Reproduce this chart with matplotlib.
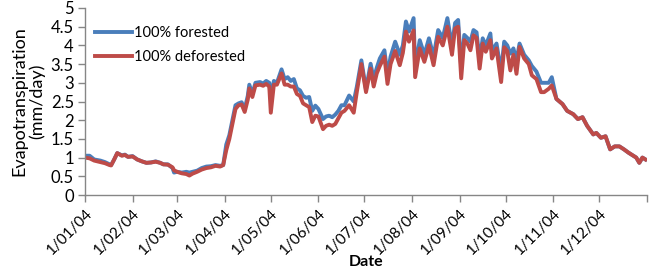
import matplotlib
matplotlib.use("Agg")
import matplotlib.pyplot as plt
import matplotlib.dates as mdates
import numpy as np
import datetime as dt

# day offsets from 1 Jan 2004
days = [0, 3, 6, 10, 13, 16, 17, 19, 21, 24, 26, 28, 31, 34, 37, 40, 43, 46, 49, 51,
        54, 57, 58, 60, 63, 66, 68, 70, 73, 76, 79, 82, 85, 88, 90, 92, 94, 96, 98, 100,
        102, 104, 106, 107, 109, 111, 114, 116, 118, 120, 121, 123, 125, 128, 130, 132, 134, 136, 138, 140,
        142, 144, 146, 148, 150, 152, 155, 157, 159, 161, 163, 165, 167, 169, 172, 175, 177, 180, 183, 186,
        188, 190, 192, 195, 197, 199, 202, 205, 207, 209, 211, 214, 215, 218, 221, 224, 227, 230, 233, 236,
        239, 241, 243, 245, 247, 249, 251, 253, 255, 257, 259, 261, 264, 265, 268, 271, 273, 275, 277, 279,
        281, 283, 286, 289, 291, 294, 297, 299, 302, 304, 307, 311, 314, 318, 321, 324, 327, 331, 333, 336,
        339, 342, 345, 348, 351, 354, 359, 361, 363, 365]

forested = [1.05, 1.05, 0.95, 0.92, 0.88, 0.82, 0.80, 0.95, 1.12, 1.06, 1.08, 1.02, 1.04, 0.95, 0.90, 0.86, 0.87, 0.90, 0.86, 0.82,
            0.82, 0.72, 0.60, 0.62, 0.60, 0.62, 0.60, 0.62, 0.65, 0.72, 0.76, 0.77, 0.80, 0.78, 0.80, 1.35, 1.60, 2.00, 2.40, 2.45,
            2.48, 2.30, 2.65, 2.95, 2.70, 3.00, 3.02, 2.98, 3.05, 3.00, 2.60, 3.05, 3.00, 3.36, 3.10, 3.15, 3.05, 3.10, 2.85, 2.80,
            2.65, 2.60, 2.62, 2.25, 2.39, 2.30, 2.03, 2.10, 2.12, 2.08, 2.15, 2.25, 2.40, 2.40, 2.66, 2.50, 2.89, 3.60, 2.82, 3.51,
            3.10, 3.40, 3.65, 3.87, 3.20, 3.70, 4.10, 3.75, 4.00, 4.64, 4.37, 4.73, 3.40, 4.14, 3.75, 4.19, 3.70, 4.41, 4.20, 4.73,
            3.98, 4.60, 4.68, 3.40, 4.28, 4.20, 4.10, 4.41, 4.35, 3.60, 4.19, 4.00, 4.32, 3.85, 4.05, 3.30, 4.10, 4.00, 3.78, 3.92,
            3.60, 4.05, 3.75, 3.60, 3.45, 3.30, 3.00, 3.00, 3.00, 3.15, 2.57, 2.43, 2.25, 2.16, 2.03, 2.08, 1.85, 1.62, 1.66, 1.53,
            1.57, 1.22, 1.30, 1.30, 1.22, 1.13, 1.00, 0.86, 1.00, 0.95]

deforested = [1.00, 0.98, 0.92, 0.88, 0.85, 0.80, 0.79, 0.95, 1.12, 1.05, 1.07, 1.02, 1.03, 0.95, 0.90, 0.86, 0.87, 0.89, 0.86, 0.82,
              0.81, 0.74, 0.66, 0.62, 0.58, 0.56, 0.52, 0.57, 0.62, 0.68, 0.72, 0.74, 0.78, 0.76, 0.80, 1.20, 1.50, 1.90, 2.30, 2.40,
              2.42, 2.22, 2.55, 2.85, 2.62, 2.93, 2.95, 2.92, 2.97, 2.90, 2.20, 2.95, 2.95, 3.25, 2.95, 2.95, 2.90, 2.90, 2.70, 2.65,
              2.45, 2.40, 2.35, 1.95, 2.12, 2.10, 1.76, 1.85, 1.88, 1.85, 1.90, 2.05, 2.20, 2.25, 2.40, 2.20, 2.75, 3.50, 2.75, 3.38,
              2.90, 3.25, 3.45, 3.70, 2.97, 3.50, 3.85, 3.47, 3.80, 4.37, 4.10, 4.40, 3.15, 3.92, 3.56, 4.00, 3.47, 4.23, 4.00, 4.50,
              3.75, 4.45, 4.50, 3.12, 4.14, 4.05, 3.87, 4.27, 4.20, 3.38, 4.05, 3.83, 4.14, 3.65, 3.92, 3.02, 3.95, 3.85, 3.33, 3.75,
              3.24, 3.96, 3.65, 3.50, 3.20, 3.10, 2.75, 2.75, 2.84, 2.93, 2.57, 2.43, 2.25, 2.16, 2.03, 2.08, 1.85, 1.62, 1.66, 1.53,
              1.57, 1.22, 1.30, 1.30, 1.22, 1.13, 1.00, 0.86, 1.00, 0.95]

series_labels = ["100% forested", "100% deforested"]
y_ticks = [0, 0.5, 1, 1.5, 2, 2.5, 3, 3.5, 4, 4.5, 5]
y_tick_labels = ["0", "0.5", "1", "1.5", "2", "2.5", "3", "3.5", "4", "4.5", "5"]
month_ticks = [dt.date(2004, m, 1) for m in range(1, 13)] + [dt.date(2005, 1, 1)]
month_labels = ["1/01/04", "1/02/04", "1/03/04", "1/04/04", "1/05/04", "1/06/04",
                "1/07/04", "1/08/04", "1/09/04", "1/10/04", "1/11/04", "1/12/04", ""]

plt.rcParams['font.family'] = ['Lato', 'DejaVu Sans']

start = dt.date(2004, 1, 1)
dates = [start + dt.timedelta(days=d) for d in days]

fig = plt.figure(figsize=(6.5, 2.7), dpi=100)
ax = fig.add_axes([85/650, 75/270, 562/650, 187/270])

ax.plot(dates, forested, color="#4A7EBB", lw=2.8, label=series_labels[0], solid_joinstyle="round")
ax.plot(dates, deforested, color="#BE4B48", lw=2.8, label=series_labels[1], solid_joinstyle="round")

ax.set_xlim(dt.date(2004, 1, 1), dt.date(2005, 1, 1))
ax.set_ylim(0, 5)
ax.set_yticks(y_ticks)
ax.set_yticklabels(y_tick_labels)
ax.set_xticks(month_ticks)
ax.set_xticklabels(month_labels, rotation=45, ha="right", rotation_mode="anchor")

for s in ["top", "right"]:
    ax.spines[s].set_visible(False)
for s in ["left", "bottom"]:
    ax.spines[s].set_color("#868686")
    ax.spines[s].set_linewidth(1.0)
ax.tick_params(axis="both", colors="#868686", length=5, width=1.0, labelcolor="black")
ax.tick_params(axis="y", pad=3, labelsize=12)
ax.tick_params(axis="x", pad=3, labelsize=11)

ax.set_ylabel("Evapotranspiration\n(mm/day)", fontsize=13, labelpad=4, linespacing=1.1)
ax.set_xlabel("Date", fontsize=11.5, fontweight="bold", va="center")
ax.xaxis.set_label_coords(0.5, (8 - 75) / 187)

leg = ax.legend(loc="upper left", bbox_to_anchor=(0.0, 0.96), frameon=False, fontsize=10.5,
                handlelength=2.5, handletextpad=0.15, labelspacing=0.7, borderaxespad=0.3)

fig.savefig("out.png", dpi=100)
